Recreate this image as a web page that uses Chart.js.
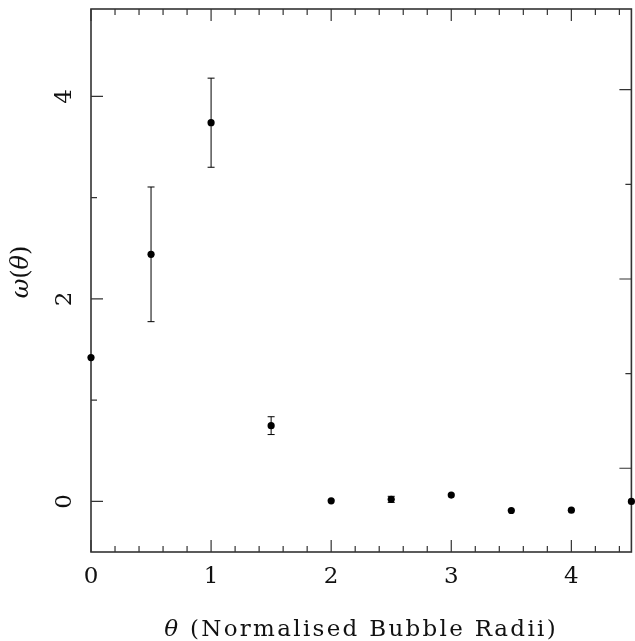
<!DOCTYPE html>
<html>
<head>
<meta charset="utf-8">
<script src="https://cdn.jsdelivr.net/npm/chart.js@4/dist/chart.umd.min.js"></script>
<style>
  html, body { margin: 0; padding: 0; background: #fff; }
  #wrap { width: 635px; height: 641px; }
</style>
</head>
<body>
<div id="wrap"><canvas id="omegaChart" width="635" height="641"></canvas></div>
<script>
// bubble separation (normalised radii) and correlation values
const theta = [0, 0.5, 1, 1.5, 2, 2.5, 3, 3.5, 4, 4.5];
const omega = [1.42, 2.44, 3.74, 0.748, 0.005, 0.02, 0.062, -0.09, -0.087, 0.0];
const omegaErr = [0, 0.665, 0.44, 0.088, 0, 0.03, 0, 0, 0, 0];

const xTickLabels = [0, 1, 2, 3, 4];
const xMinorTicks = [0.2, 0.4, 0.6, 0.8, 1.2, 1.4, 1.6, 1.8, 2.2, 2.4, 2.6, 2.8,
  3.2, 3.4, 3.6, 3.8, 4.2, 4.4];
const yTickLabels = [0, 2, 4];
const yMinorTicks = [1, 3];
// the right-hand frame carries its own (offset) tick scale in the original
const yRightMajor = [0, 2, 4];
const yRightMinor = [1, 3];

const SERIF = "'DejaVu Serif', serif";
const ink = "#000";
const axisClr = "#333";

const frameAndTicks = {
  id: "frameAndTicks",
  beforeDatasetsDraw(chart) {
    const { ctx, chartArea: a, scales } = chart;
    const x = scales.x;
    const y = scales.y;
    const y2 = scales.y2;
    const major = 12;
    const minor = 6;

    ctx.save();
    ctx.strokeStyle = axisClr;
    ctx.lineWidth = 1.6;
    ctx.strokeRect(a.left, a.top, a.right - a.left, a.bottom - a.top);

    ctx.lineWidth = 1.2;
    ctx.beginPath();
    const vTick = (v, len) => {
      const px = x.getPixelForValue(v);
      ctx.moveTo(px, a.bottom);
      ctx.lineTo(px, a.bottom - len);
      ctx.moveTo(px, a.top);
      ctx.lineTo(px, a.top + len);
    };
    xTickLabels.forEach((v) => vTick(v, major));
    xMinorTicks.forEach((v) => vTick(v, minor));

    yTickLabels.forEach((v) => {
      const py = y.getPixelForValue(v);
      ctx.moveTo(a.left, py);
      ctx.lineTo(a.left + major, py);
    });
    yMinorTicks.forEach((v) => {
      const py = y.getPixelForValue(v);
      ctx.moveTo(a.left, py);
      ctx.lineTo(a.left + minor, py);
    });
    yRightMajor.forEach((v) => {
      const py = y2.getPixelForValue(v);
      ctx.moveTo(a.right, py);
      ctx.lineTo(a.right - major, py);
    });
    yRightMinor.forEach((v) => {
      const py = y2.getPixelForValue(v);
      ctx.moveTo(a.right, py);
      ctx.lineTo(a.right - minor, py);
    });
    ctx.stroke();

    // error bars
    ctx.strokeStyle = ink;
    ctx.lineWidth = 1;
    ctx.beginPath();
    theta.forEach((t, i) => {
      const e = omegaErr[i];
      if (!e) {
        return;
      }
      const px = x.getPixelForValue(t);
      const hi = y.getPixelForValue(omega[i] + e);
      const lo = y.getPixelForValue(omega[i] - e);
      ctx.moveTo(px, hi);
      ctx.lineTo(px, lo);
      ctx.moveTo(px - 3.5, hi);
      ctx.lineTo(px + 3.5, hi);
      ctx.moveTo(px - 3.5, lo);
      ctx.lineTo(px + 3.5, lo);
    });
    ctx.stroke();
    ctx.restore();
  },
  afterDraw(chart) {
    const { ctx, chartArea: a, scales } = chart;
    const x = scales.x;
    const y = scales.y;

    ctx.save();
    ctx.fillStyle = "#111";
    ctx.font = `23px ${SERIF}`;
    ctx.textAlign = "center";
    ctx.textBaseline = "middle";
    xTickLabels.forEach((v) => {
      ctx.fillText(String(v), x.getPixelForValue(v), 577);
    });

    yTickLabels.forEach((v) => {
      ctx.save();
      ctx.translate(65, y.getPixelForValue(v));
      ctx.rotate(-Math.PI / 2);
      ctx.fillText(String(v), 0, 0);
      ctx.restore();
    });

    // x title: italic theta followed by the roman part
    const partsX = [
      { t: "\u03b8", f: `italic 23px ${SERIF}` },
      { t: " (Normalised Bubble Radii)", f: `23px ${SERIF}` },
    ];
    drawRun(ctx, partsX, (a.left + a.right) / 2 - 1, 630, 392);

    ctx.save();
    ctx.translate(22, 272);
    ctx.rotate(-Math.PI / 2);
    const partsY = [
      { t: "\u03c9", f: `italic 24px ${SERIF}` },
      { t: "(", f: `24px ${SERIF}` },
      { t: "\u03b8", f: `italic 24px ${SERIF}` },
      { t: ")", f: `24px ${SERIF}` },
    ];
    drawRun(ctx, partsY, 0, 0, 40);
    ctx.restore();
    ctx.restore();
  },
};

// draws mixed-style text centred on cx, stretched by letter spacing to span `width`
function drawRun(ctx, parts, cx, cy, width) {
  let natural = 0;
  let count = 0;
  parts.forEach((p) => {
    ctx.font = p.f;
    natural += ctx.measureText(p.t).width;
    count += p.t.length;
  });
  const gap = count > 1 ? Math.max(0, (width - natural) / (count - 1)) : 0;
  let pos = cx - (natural + gap * (count - 1)) / 2;
  ctx.textAlign = "left";
  ctx.textBaseline = "middle";
  parts.forEach((p) => {
    ctx.font = p.f;
    for (const ch of p.t) {
      ctx.fillText(ch, pos, cy);
      pos += ctx.measureText(ch).width + gap;
    }
  });
}

new Chart(document.getElementById("omegaChart"), {
  type: "scatter",
  data: {
    datasets: [
      {
        data: theta.map((t, i) => ({ x: t, y: omega[i] })),
        backgroundColor: ink,
        borderColor: ink,
        borderWidth: 0,
        pointRadius: 3.6,
        pointHoverRadius: 3.6,
        clip: false,
      },
    ],
  },
  options: {
    responsive: false,
    animation: false,
    events: [],
    layout: {
      padding: { left: 91, top: 9, right: 1, bottom: 89 },
    },
    plugins: {
      legend: { display: false },
      tooltip: { enabled: false },
    },
    scales: {
      x: { type: "linear", display: false, min: 0, max: 4.5 },
      y: { type: "linear", display: false, min: -0.5, max: 4.863 },
      y2: { type: "linear", display: false, position: "right", min: -0.885, max: 4.853 },
    },
  },
  plugins: [frameAndTicks],
});
</script>
</body>
</html>
